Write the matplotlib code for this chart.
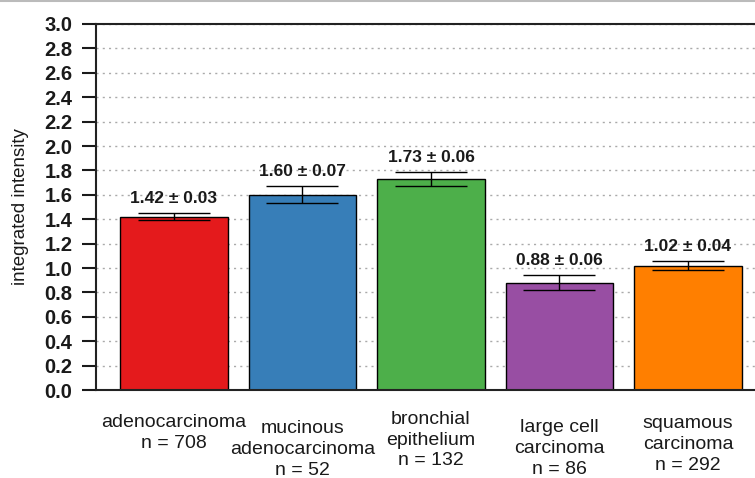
import numpy as np
import matplotlib.pyplot as plt
from matplotlib.lines import Line2D

plt.rcParams['font.family'] = ['Liberation Sans', 'DejaVu Sans']

categories = ["adenocarcinoma\nn = 708",
              "mucinous\nadenocarcinoma\nn = 52",
              "bronchial\nepithelium\nn = 132",
              "large cell\ncarcinoma\nn = 86",
              "squamous\ncarcinoma\nn = 292"]
means = [1.42, 1.60, 1.73, 0.88, 1.02]
errors = [0.03, 0.07, 0.06, 0.06, 0.04]
colors = ["#E41A1C", "#377EB8", "#4DAF4A", "#984EA3", "#FF7F00"]

# vertical centre of each category label (data units, below zero)
label_y = [-0.35, -0.49, -0.41, -0.48, -0.45]

fig = plt.figure(figsize=(7.55, 4.78), dpi=100)
ax = fig.add_axes([96 / 755, 88 / 478, 666 / 755, 366 / 478])

x = np.arange(len(means))
ax.bar(x, means, width=0.835, color=colors, edgecolor="black", linewidth=1.0, zorder=2)
ax.errorbar(x, means, yerr=errors, fmt="none", ecolor="black", elinewidth=1.0,
            capsize=26, capthick=1.0, zorder=3)

for xi, m, e in zip(x, means, errors):
    ax.annotate(f"{m:.2f} \u00b1 {e:.2f}", (xi, m + e), xytext=(0, 5),
                textcoords="offset points", ha="center", va="bottom",
                fontsize=12.5, fontweight="bold", color="#1a1a1a")

for xi, lab, ly in zip(x, categories, label_y):
    ax.text(xi, ly, lab, ha="center", va="center", fontsize=14,
            linespacing=1.3, color="#1a1a1a", clip_on=False)

ax.set_xlim(-0.607, 4.576)
ax.set_ylim(0, 3.0)
ax.set_yticks(np.arange(0, 3.01, 0.2))
ax.set_yticklabels([f"{v:.1f}" for v in np.arange(0, 3.01, 0.2)],
                   fontsize=14.5, fontweight="bold")
ax.set_xticks([])
ax.tick_params(axis="y", length=10, width=1.5, pad=7, colors="#1a1a1a")
ax.yaxis.grid(True, linestyle=(0, (1.5, 3)), color="#aaaaaa", linewidth=1.0, zorder=0)
ax.set_axisbelow(True)

for s in ["left", "bottom", "top"]:
    ax.spines[s].set_linewidth(1.5)
    ax.spines[s].set_color("#222222")
ax.spines["right"].set_visible(False)

ax.set_ylabel("integrated intensity", fontsize=13.5, color="#1a1a1a")
ax.yaxis.set_label_coords(-67 / 666, 0.5)

fig.add_artist(Line2D([0, 1], [0.998, 0.998], transform=fig.transFigure,
                      color="#bbbbbb", linewidth=1.5))

fig.savefig("out.png", dpi=100)
